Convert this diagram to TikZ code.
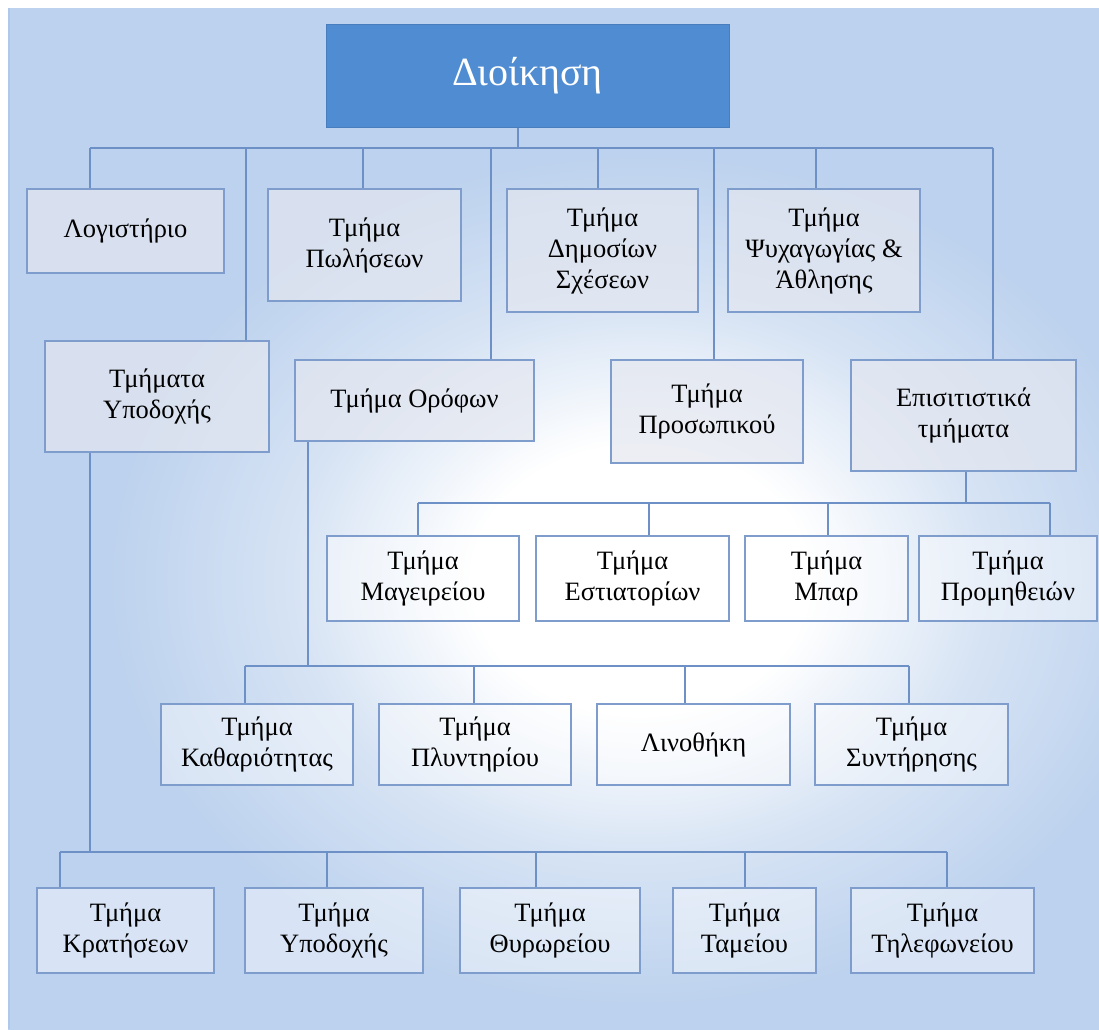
\documentclass[tikz,border=0pt]{standalone}
\usepackage{fontspec}
\setmainfont{Liberation Serif}
\usetikzlibrary{backgrounds}
\definecolor{bgblue}{HTML}{BDD2EE}
\definecolor{bgmid}{HTML}{D6E3F4}
\definecolor{bgedge}{HTML}{AFC9EC}
\definecolor{topblue}{HTML}{508CD2}
\definecolor{boxline}{HTML}{7E9DCD}
\definecolor{conline}{HTML}{6D91C7}
\definecolor{boxgray}{HTML}{E4E7F0}
\pgfdeclareradialshading{bgshade}{\pgfpoint{0bp}{0bp}}{color(0bp)=(white); color(6bp)=(white); color(12.5bp)=(bgmid); color(19bp)=(bgblue); color(50bp)=(bgblue)}
\tikzset{
  box/.style={draw=boxline, line width=1.3pt, inner sep=0pt, outer sep=0pt, align=center,
    font=\fontsize{26.5}{31}\selectfont, text=black, text opacity=1},
  upbox/.style={box, fill=boxgray, fill opacity=0.7},
  lowbox/.style={box, fill=white, fill opacity=0.42},
  topbox/.style={fill=topblue, draw=topblue!90!black, line width=0.8pt, inner sep=0pt, outer sep=0pt,
    font=\fontsize{40}{46}\selectfont, text=white},
  con/.style={draw=conline, line width=1.4pt}
}
\begin{document}
\begin{tikzpicture}[x=1pt,y=-1pt]
\useasboundingbox (0,0) rectangle (1099,1029);
% boxes
\node[topbox, minimum width=403pt, minimum height=103pt] (top) at (527.5,75.5) {Διοίκηση};
\node[upbox, minimum width=197pt, minimum height=84pt] (log) at (125.5,231) {Λογιστήριο};
\node[upbox, minimum width=193pt, minimum height=112pt] (pol) at (364.5,245) {Τμήμα\\Πωλήσεων};
\node[upbox, minimum width=191pt, minimum height=123pt] (dim) at (602.5,250.5) {Τμήμα\\Δημοσίων\\Σχέσεων};
\node[upbox, minimum width=192pt, minimum height=123pt] (psy) at (824,250.5) {Τμήμα\\Ψυχαγωγίας \&\\Άθλησης};
\node[upbox, minimum width=224pt, minimum height=111pt] (ypo) at (157,396.5) {Τμήματα\\Υποδοχής};
\node[upbox, minimum width=239pt, minimum height=81pt] (oro) at (414.5,400.5) {Τμήμα Ορόφων};
\node[upbox, minimum width=192pt, minimum height=103pt] (pro) at (707,411.5) {Τμήμα\\Προσωπικού};
\node[upbox, minimum width=225pt, minimum height=111pt] (epi) at (963.5,415.5) {Επισιτιστικά\\τμήματα};
% row 3
\node[lowbox, minimum width=192pt, minimum height=85pt] (mag) at (423,578.5) {Τμήμα\\Μαγειρείου};
\node[lowbox, minimum width=193pt, minimum height=85pt] (est) at (632.5,578.5) {Τμήμα\\Εστιατορίων};
\node[lowbox, minimum width=163pt, minimum height=85pt] (bar) at (826.5,578.5) {Τμήμα\\Μπαρ};
\node[lowbox, minimum width=178pt, minimum height=85pt] (prm) at (1008,578.5) {Τμήμα\\Προμηθειών};
% row 4
\node[lowbox, minimum width=192pt, minimum height=81pt] (kat) at (257,744.5) {Τμήμα\\Καθαριότητας};
\node[lowbox, minimum width=192pt, minimum height=81pt] (ply) at (475,744.5) {Τμήμα\\Πλυντηρίου};
\node[lowbox, minimum width=193pt, minimum height=81pt] (lin) at (693.5,744.5) {Λινοθήκη};
\node[lowbox, minimum width=193pt, minimum height=81pt] (syn) at (911.5,744.5) {Τμήμα\\Συντήρησης};
% row 5
\node[lowbox, minimum width=177pt, minimum height=85pt] (kra) at (125.5,930.5) {Τμήμα\\Κρατήσεων};
\node[lowbox, minimum width=178pt, minimum height=85pt] (ypd) at (334,930.5) {Τμήμα\\Υποδοχής};
\node[lowbox, minimum width=180pt, minimum height=85pt] (thy) at (550,930.5) {Τμήμα\\Θυρωρείου};
\node[lowbox, minimum width=143pt, minimum height=85pt] (tam) at (744.5,930.5) {Τμήμα\\Ταμείου};
\node[lowbox, minimum width=183pt, minimum height=85pt] (til) at (942.5,930.5) {Τμήμα\\Τηλεφωνείου};

\begin{scope}[on background layer]
  \fill[bgblue] (8,8) rectangle (1099,1029);
  \begin{scope}
    \clip (8,8) rectangle (1099,1029);
    \shade[shading=bgshade] (-60,20) rectangle (1340,1140);
  \end{scope}
  \draw[bgedge, line width=2pt] (9,8) -- (9,1029);
  % level 1 bus
  \coordinate (b0) at (518,148);
  \coordinate (bL) at (90,148);
  \coordinate (bR) at (993,148);
  \draw[con] (top.south -| b0) -- (b0);
  \draw[con] (bL) -- (bR);
  \foreach \x/\n in {90/log,246/ypo,363/pol,491/oro,598/dim,714/pro,816/psy,993/epi}{
    \coordinate (t) at (\x,148);
    \draw[con] (t) -- (t |- \n.north);
  }
  % Epi bus
  \coordinate (e0) at (966,503);
  \draw[con] (e0 |- epi.south) -- (e0);
  \coordinate (eL) at (418,503);
  \coordinate (eR) at (1050,503);
  \draw[con] (eL) -- (eR);
  \foreach \x/\n in {418/mag,649/est,828/bar,1050/prm}{
    \coordinate (t) at (\x,503);
    \draw[con] (t) -- (t |- \n.north);
  }
  % Oro bus
  \coordinate (o0) at (308,666);
  \draw[con] (o0 |- oro.south) -- (o0);
  \coordinate (oL) at (245,666);
  \coordinate (oR) at (909,666);
  \draw[con] (oL) -- (oR);
  \foreach \x/\n in {245/kat,474/ply,685/lin,909/syn}{
    \coordinate (t) at (\x,666);
    \draw[con] (t) -- (t |- \n.north);
  }
  % Ypo bus
  \coordinate (y0) at (90,852);
  \draw[con] (y0 |- ypo.south) -- (y0);
  \coordinate (yL) at (60,852);
  \coordinate (yR) at (947,852);
  \draw[con] (yL) -- (yR);
  \foreach \x/\n in {60/kra,327/ypd,536/thy,745/tam,947/til}{
    \coordinate (t) at (\x,852);
    \draw[con] (t) -- (t |- \n.north);
  }
\end{scope}
\end{tikzpicture}
\end{document}
